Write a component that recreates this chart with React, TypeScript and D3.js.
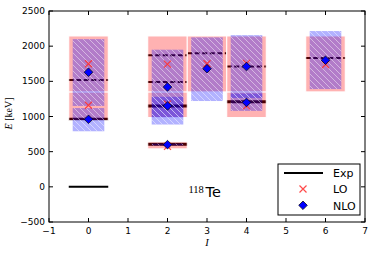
import * as d3 from 'd3'

// experimental levels
const expSpin = [0, 0, 0, 2, 2, 2, 2, 3, 4, 4, 6]
const expEnergy = [0, 960, 1520, 605, 1150, 1490, 1870, 1900, 1210, 1710, 1830]
const expDashed = [false, false, true, false, false, true, true, true, false, true, true]

// LO results with uncertainty bands
const loSpin = [0, 0, 2, 2, 2, 3, 4, 4, 6]
const loEnergy = [1160, 1750, 575, 1175, 1745, 1750, 1150, 1755, 1740]
const loLow = [940, 1350, 540, 985, 1350, 1350, 985, 1350, 1350]
const loHigh = [1350, 2145, 640, 1350, 2145, 2145, 1350, 2145, 2145]

// NLO results with uncertainty bands
const nloSpin = [0, 0, 2, 2, 2, 3, 4, 4, 6]
const nloEnergy = [960, 1630, 600, 1150, 1420, 1680, 1200, 1710, 1800]
const nloLow = [790, 1150, 588, 886, 990, 1220, 1080, 1264, 1390]
const nloHigh = [1120, 2100, 615, 1280, 1950, 2125, 1327, 2157, 2215]

const xTicks = [-1, 0, 1, 2, 3, 4, 5, 6, 7]
const yTicks = [-500, 0, 500, 1000, 1500, 2000, 2500]

const W = 374
const H = 256
const margin = { top: 11, right: 9, bottom: 34, left: 49 }
const FONT = "'DejaVu Sans', sans-serif"
const SERIF = "'Liberation Serif', 'DejaVu Serif', serif"

const fmt = (v: number) => (v < 0 ? '\u2212' + Math.abs(v) : String(v))

export default function App() {
  const innerW = W - margin.left - margin.right
  const innerH = H - margin.top - margin.bottom
  const x = d3.scaleLinear().domain([-1, 7]).range([0, innerW])
  const y = d3.scaleLinear().domain([-500, 2500]).range([innerH, 0])

  const band = (s: number, lo: number, hi: number, half: number) => ({
    x: x(s - half),
    w: x(s + half) - x(s - half),
    y: y(hi),
    h: y(lo) - y(hi),
  })

  const tick = 4
  const legX = 278 - margin.left
  const legY = 164 - margin.top

  return (
    <div style={{ position: 'fixed', left: 0, top: 0 }}>
      <svg width={W} height={H} style={{ display: 'block', background: '#fff' }}>
        <defs>
          <pattern id="hatch" patternUnits="userSpaceOnUse" width="6" height="6">
            <path d="M-1,-1 L7,7 M-1,5 L1,7 M5,-1 L7,1" stroke="#fff" strokeOpacity={0.45} strokeWidth={1} />
          </pattern>
          <clipPath id="plot">
            <rect width={innerW} height={innerH} />
          </clipPath>
        </defs>
        <g transform={`translate(${margin.left},${margin.top})`}>
          <g clipPath="url(#plot)">
            {/* experiment lines */}
            {expSpin.map((s, i) => (
              <line
                key={'e' + i}
                x1={x(s - 0.5)}
                x2={x(s + 0.5)}
                y1={y(expEnergy[i])}
                y2={y(expEnergy[i])}
                stroke="#000"
                strokeWidth={expEnergy[i] === 0 || expDashed[i] ? 2 : 3}
                strokeDasharray={expDashed[i] ? '5,2.5' : undefined}
              />
            ))}
            {/* LO bands */}
            {loSpin.map((s, i) => {
              const b = band(s, loLow[i], loHigh[i], 0.5)
              return <rect key={'lb' + i} x={b.x} y={b.y} width={b.w} height={b.h} fill="rgba(255,0,0,0.3)" stroke="#fff" strokeWidth={1} />
            })}
            {/* NLO bands */}
            {nloSpin.map((s, i) => {
              const b = band(s, nloLow[i], nloHigh[i], 0.4)
              return (
                <g key={'nb' + i}>
                  <rect x={b.x} y={b.y} width={b.w} height={b.h} fill="rgba(0,0,255,0.3)" />
                  <rect x={b.x} y={b.y} width={b.w} height={b.h} fill="url(#hatch)" />
                </g>
              )
            })}
            {/* LO markers */}
            {loSpin.map((s, i) => {
              const cx = x(s)
              const cy = y(loEnergy[i])
              const r = 3.5
              return (
                <path
                  key={'lm' + i}
                  d={`M${cx - r},${cy - r}L${cx + r},${cy + r}M${cx - r},${cy + r}L${cx + r},${cy - r}`}
                  stroke="#ff2a2a"
                  strokeOpacity={0.85}
                  strokeWidth={1.2}
                />
              )
            })}
            {/* NLO markers */}
            {nloSpin.map((s, i) => {
              const cx = x(s)
              const cy = y(nloEnergy[i])
              const r = 4.3
              return (
                <path
                  key={'nm' + i}
                  d={`M${cx},${cy - r}L${cx + r},${cy}L${cx},${cy + r}L${cx - r},${cy}Z`}
                  fill="#0000ff"
                  stroke="#000"
                  strokeWidth={0.7}
                />
              )
            })}
          </g>

          {/* nucleus label */}
          <text x={188.5 - margin.left} y={192.5 - margin.top} fontFamily={SERIF} fontSize={10.5} fill="#000">
            118
          </text>
          <text x={205.5 - margin.left} y={197 - margin.top} fontFamily={FONT} fontSize={14.5} fill="#000">
            Te
          </text>

          {/* frame */}
          <rect width={innerW} height={innerH} fill="none" stroke="#000" strokeWidth={1} />

          {/* ticks */}
          {xTicks.map((t) => (
            <g key={'xt' + t}>
              <line x1={x(t)} x2={x(t)} y1={innerH} y2={innerH - tick} stroke="#000" />
              <line x1={x(t)} x2={x(t)} y1={0} y2={tick} stroke="#000" />
              <text x={x(t)} y={innerH + 12} textAnchor="middle" fontFamily={FONT} fontSize={9} fill="#000">
                {fmt(t)}
              </text>
            </g>
          ))}
          {yTicks.map((t) => (
            <g key={'yt' + t}>
              <line x1={0} x2={tick} y1={y(t)} y2={y(t)} stroke="#000" />
              <line x1={innerW} x2={innerW - tick} y1={y(t)} y2={y(t)} stroke="#000" />
              <text x={-4} y={y(t)} dy="0.35em" textAnchor="end" fontFamily={FONT} fontSize={9} fill="#000">
                {fmt(t)}
              </text>
            </g>
          ))}

          {/* axis labels */}
          <text x={innerW / 2} y={innerH + 24} textAnchor="middle" fontFamily={SERIF} fontStyle="italic" fontSize={10.5} fill="#000">
            I
          </text>
          <text
            transform={`translate(${12 - margin.left},${innerH / 2 - 3}) rotate(-90)`}
            textAnchor="middle"
            fontFamily={SERIF}
            fontSize={10}
            fill="#000"
          >
            <tspan fontStyle="italic">E</tspan> [keV]
          </text>

          {/* legend */}
          <g transform={`translate(${legX},${legY})`}>
            <rect width={82} height={51} fill="#fff" stroke="#000" strokeWidth={1} />
            <line x1={6} x2={45} y1={9} y2={9} stroke="#000" strokeWidth={2} />
            <text x={55} y={13} fontFamily={FONT} fontSize={11} fill="#000">Exp</text>
            <path d="M21.5,21.5L28.5,28.5M21.5,28.5L28.5,21.5" stroke="#ff2a2a" strokeOpacity={0.85} strokeWidth={1.2} />
            <text x={55} y={29} fontFamily={FONT} fontSize={11} fill="#000">LO</text>
            <path d="M25,37L29.3,41.3L25,45.6L20.7,41.3Z" fill="#0000ff" stroke="#000" strokeWidth={0.7} />
            <text x={55} y={45.5} fontFamily={FONT} fontSize={11} fill="#000">NLO</text>
          </g>
        </g>
      </svg>
    </div>
  )
}
